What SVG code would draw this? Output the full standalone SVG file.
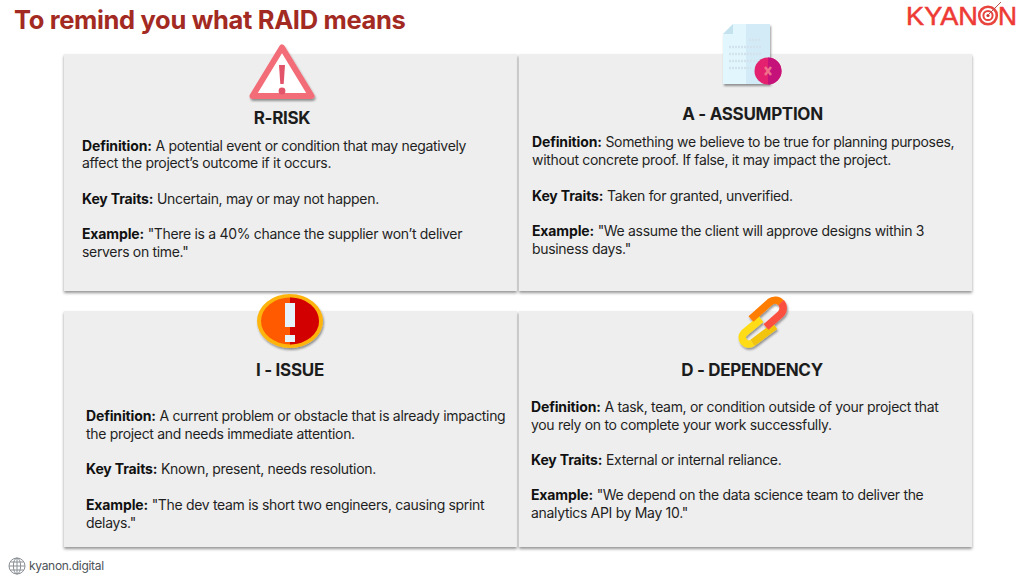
<svg xmlns="http://www.w3.org/2000/svg" width="1024" height="580" viewBox="0 0 1024 580">
<style>
text{font-family:Inter,"Liberation Sans",sans-serif}
.b{font-size:14px;fill:#1f1f1f;letter-spacing:-.32px}
.b tspan{font-weight:700;fill:#111;letter-spacing:-.14px}
.h{font-size:17px;font-weight:700;fill:#1c1c1c;text-anchor:middle;letter-spacing:-.3px}
.c{fill:#eeeeee;filter:url(#s)}
</style>
<defs>
<filter id="s" x="-5%" y="-5%" width="110%" height="112%"><feDropShadow dx="0" dy="2" stdDeviation="1.8" flood-color="#000" flood-opacity=".42"/></filter>
<filter id="s2" x="-20%" y="-20%" width="140%" height="140%"><feDropShadow dx="1" dy="2" stdDeviation="1.2" flood-color="#000" flood-opacity=".4"/></filter>
</defs>
<rect width="1024" height="580" fill="#fff"/>
<text x="14" y="29" font-size="25.500" font-weight="700" fill="#a32a22" letter-spacing="-.33">To remind you what RAID means</text>
<g id="logo">
<text x="906" y="25" font-size="25" fill="#ee3a35" stroke="#ee3a35" stroke-width=".5" style="font-family:'Liberation Sans',sans-serif" textLength="72" lengthAdjust="spacingAndGlyphs">KYAN</text>
<text x="998" y="25" font-size="25" fill="#ee3a35" stroke="#ee3a35" stroke-width=".5" style="font-family:'Liberation Sans',sans-serif" textLength="19" lengthAdjust="spacingAndGlyphs">N</text>
<circle cx="988" cy="15.500" r="8.800" fill="#fff" stroke="#e8453f" stroke-width="2.600"/>
<circle cx="988" cy="15.500" r="4.600" fill="none" stroke="#e8453f" stroke-width="2"/>
<circle cx="988" cy="15.500" r="1.600" fill="#c9332e"/>
<path d="M989 14L1001 2" stroke="#b5534e" stroke-width="1" fill="none"/>
</g>
<g id="card-risk">
<rect class="c" x="64" y="54" width="453" height="237"/>
<path d="M282 47.500L311.500 96H252.500Z" fill="#fff" stroke="#f26d78" stroke-width="6" stroke-linejoin="round" filter="url(#s2)"/>
<path d="M279 65h6l-1.300 19h-3.400Z" fill="#e2546a"/>
<circle cx="282" cy="91" r="3.400" fill="#e2546a"/>
<text class="h" x="282" y="124">R-RISK</text>
<text class="b" x="82" y="151"><tspan>Definition:</tspan> A potential event or condition that may negatively</text>
<text class="b" x="82" y="168">affect the project’s outcome if it occurs.</text>
<text class="b" x="82" y="204"><tspan>Key Traits:</tspan> Uncertain, may or may not happen.</text>
<text class="b" x="82" y="239"><tspan>Example:</tspan> "There is a 40% chance the supplier won’t deliver</text>
<text class="b" x="82" y="257">servers on time."</text>
</g>
<g id="card-assumption">
<rect class="c" x="519" y="54" width="453" height="237"/>
<path d="M733 24H770V84H723V34Z" fill="#e2f7fd" filter="url(#s2)"/>
<path d="M746 24H770V84H746Z" fill="#d3ebf6"/>
<path d="M733 24V34H723Z" fill="#c4e2ee"/>
<path d="M729 47h33M729 54h33M729 61h33M729 68h22M749 40h12" stroke="#d3e3ee" stroke-width="2.500" stroke-dasharray="2 1" fill="none"/>
<circle cx="768" cy="71" r="13.500" fill="#e3216e"/>
<path d="M768 57.500a13.500 13.500 0 0 1 0 27Z" fill="#c4127a"/>
<path d="M765 67l6 8M771 67l-6 8" stroke="#f0708c" stroke-width="2.500"/>
<text class="h" x="752.500" y="120">A - ASSUMPTION</text>
<text class="b" x="532" y="147"><tspan>Definition:</tspan> Something we believe to be true for planning purposes,</text>
<text class="b" x="532" y="165">without concrete proof. If false, it may impact the project.</text>
<text class="b" x="532" y="201"><tspan>Key Traits:</tspan> Taken for granted, unverified.</text>
<text class="b" x="532" y="236"><tspan>Example:</tspan> "We assume the client will approve designs within 3</text>
<text class="b" x="532" y="254">business days."</text>
</g>
<g id="card-issue">
<rect class="c" x="64" y="311" width="453" height="236"/>
<ellipse cx="290" cy="321" rx="33" ry="27" fill="#fdb40c" filter="url(#s2)"/>
<ellipse cx="290" cy="321" rx="29" ry="23.500" fill="#ff5a00"/>
<path d="M290 297.500a29 23.500 0 0 1 0 47Z" fill="#d20000"/>
<path d="M285 303h10v24h-10ZM285 335h10v7h-10Z" fill="#e6f3fa"/>
<text class="h" x="290" y="376">I - ISSUE</text>
<text class="b" x="86" y="421"><tspan>Definition:</tspan> A current problem or obstacle that is already impacting</text>
<text class="b" x="86" y="439">the project and needs immediate attention.</text>
<text class="b" x="86" y="474"><tspan>Key Traits:</tspan> Known, present, needs resolution.</text>
<text class="b" x="86" y="510"><tspan>Example:</tspan> "The dev team is short two engineers, causing sprint</text>
<text class="b" x="86" y="528">delays."</text>
</g>
<g id="card-dependency">
<rect class="c" x="519" y="311" width="453" height="236"/>
<g fill="none" stroke-width="7.500" filter="url(#s2)">
<path d="M761 319L744 333A6.500 6.500 0 0 0 752.600 342.700" stroke="#ffdc14"/>
<path d="M752.600 342.700L775 326" stroke="#f2c40c"/>
<path d="M751 319L770 302A8 8 0 0 1 781 302.700" stroke="#ff7d00"/>
<path d="M781 302.700A8 8 0 0 1 780.700 314L766 327" stroke="#fb5040"/>
</g>
<text class="h" x="752" y="376">D - DEPENDENCY</text>
<text class="b" x="531" y="412"><tspan>Definition:</tspan> A task, team, or condition outside of your project that</text>
<text class="b" x="531" y="430">you rely on to complete your work successfully.</text>
<text class="b" x="531" y="465"><tspan>Key Traits:</tspan> External or internal reliance.</text>
<text class="b" x="531" y="500"><tspan>Example:</tspan> "We depend on the data science team to deliver the</text>
<text class="b" x="531" y="518">analytics API by May 10."</text>
</g>
<g id="footer">
<g fill="none" stroke="#8a8f94" stroke-width="1">
<circle cx="17" cy="566" r="8"/><ellipse cx="17" cy="566" rx="3.600" ry="8"/><path d="M9 566h16M10.500 562h13M10.500 570h13M17 558v16"/>
</g>
<text x="29" y="570" font-size="12" fill="#4d5358" letter-spacing="-.3">kyanon.digital</text>
</g>
</svg>
